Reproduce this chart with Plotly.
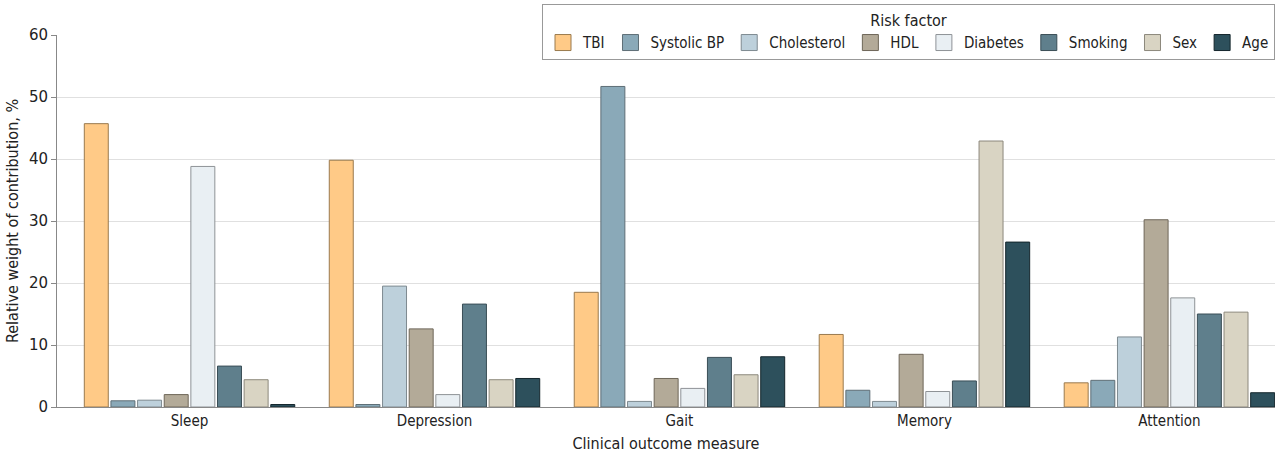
import plotly.graph_objects as go

categories = ["Sleep", "Depression", "Gait", "Memory", "Attention"]
factors = ["TBI", "Systolic BP", "Cholesterol", "HDL", "Diabetes", "Smoking", "Sex", "Age"]
tbi = [45.7, 39.8, 18.5, 11.7, 3.9]
systolic_bp = [1.0, 0.4, 51.7, 2.7, 4.3]
cholesterol = [1.1, 19.5, 0.9, 0.9, 11.3]
hdl = [2.0, 12.6, 4.6, 8.5, 30.2]
diabetes = [38.8, 2.0, 3.0, 2.5, 17.6]
smoking = [6.6, 16.6, 8.0, 4.2, 15.0]
sex = [4.4, 4.4, 5.2, 42.9, 15.3]
age = [0.4, 4.6, 8.1, 26.6, 2.3]

series = [tbi, systolic_bp, cholesterol, hdl, diabetes, smoking, sex, age]
fills = ["#FFCA87", "#8AA9B8", "#BDD0DB", "#B3AA98", "#E9EFF3", "#5F7F8C", "#D9D4C3", "#2D505C"]
borders = ["#9A7A4E", "#5E6E76", "#7E8A90", "#6E6658", "#8E9296", "#3A4E56", "#8C887C", "#14262C"]

FONT = "DejaVu Sans Condensed, Liberation Sans Narrow, sans-serif"

fig = go.Figure()
for name, vals, fc, bc in zip(factors, series, fills, borders):
    fig.add_trace(go.Bar(x=categories, y=vals, name=name, showlegend=False,
                         marker=dict(color=fc, line=dict(color=bc, width=1))))
# legend proxies (bigger swatches)
for name, fc, bc in zip(factors, fills, borders):
    fig.add_trace(go.Scatter(x=[None], y=[None], name=name, mode="markers",
                             marker=dict(symbol="square", size=16, color=fc,
                                         line=dict(color=bc, width=1))))

fig.update_layout(
    barmode="group",
    bargap=0.13,
    bargroupgap=0.1,
    width=1280, height=461,
    margin=dict(l=57, r=5, t=32, b=54),
    plot_bgcolor="white", paper_bgcolor="white",
    font=dict(family=FONT, size=15, color="#222"),
    legend=dict(
        orientation="h",
        x=1.0, xanchor="right", y=1.082, yanchor="top",
        bordercolor="#999", borderwidth=1,
        bgcolor="white",
        title=dict(text="Risk factor", side="top center", font=dict(size=16)),
        font=dict(size=15),
        itemwidth=30,
        traceorder="normal",
        tracegroupgap=0,
    ),
    xaxis=dict(
        type="category",
        range=[-0.541, 4.431],
        showline=True, linecolor="#888", linewidth=1,
        ticks="", showgrid=False,
        title=dict(text="Clinical outcome measure", standoff=8, font=dict(size=16)),
        tickfont=dict(size=15),
    ),
    yaxis=dict(
        range=[0, 60], dtick=10,
        showline=True, linecolor="#888", linewidth=1,
        ticks="outside", ticklen=5, tickcolor="#888",
        gridcolor="#E0E0E0", gridwidth=1,
        zeroline=False,
        title=dict(text="Relative weight of contribution, %", standoff=6, font=dict(size=16)),
        tickfont=dict(family="DejaVu Sans, sans-serif", size=15),
    ),
)

fig.write_html("out.html")
